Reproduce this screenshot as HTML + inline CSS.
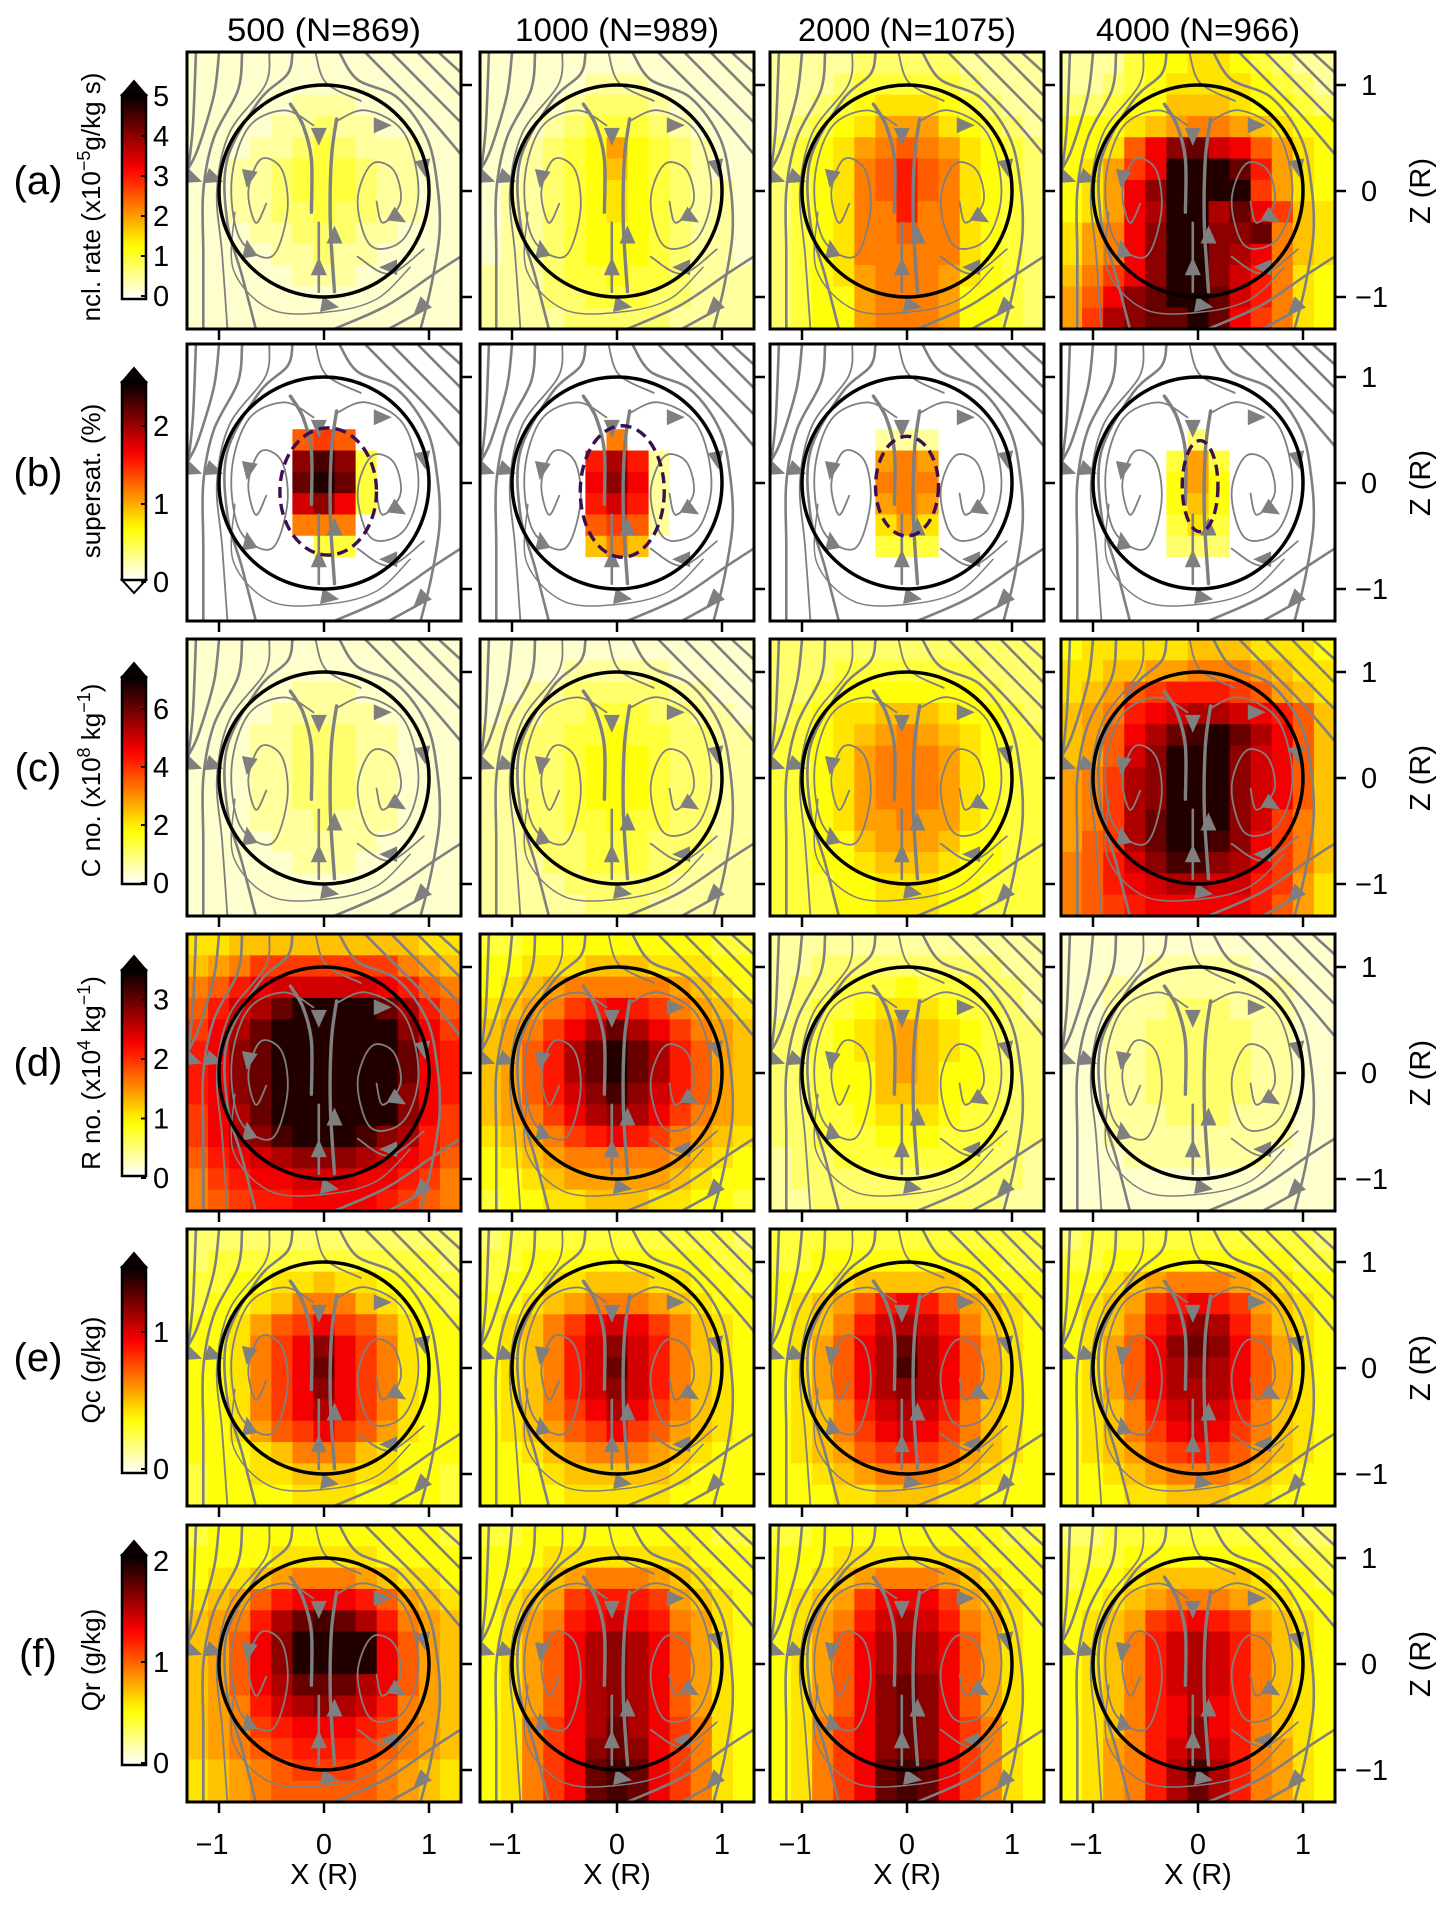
<!DOCTYPE html>
<html><head><meta charset="utf-8">
<style>
html,body{margin:0;padding:0;background:#fff;}
svg{display:block;font-family:"Liberation Sans",sans-serif;}
</style></head>
<body>
<svg id="fig" width="1441" height="1905" viewBox="0 0 1441 1905" xmlns="http://www.w3.org/2000/svg"></svg>
<script>
// ---- data: 13x13 level grids (chars 0-9a-j => level/20 of colour range), rows top->bottom ----
const columnTitles = ["500 (N=869)","1000 (N=989)","2000 (N=1075)","4000 (N=966)"];
const rowLetters = ["(a)","(b)","(c)","(d)","(e)","(f)"];
const a500 = ["1111111111111","1111111111111","1111122211111","1111223221111","1112234322211","1122344432211","1122344432211","1122334332211","1112233322111","1111223221111","1111122211111","1111111111111","1111111111111"];
const a1000 = ["1111111111111","1111122211111","1111233321111","1112344432111","1123458543211","1123457543211","1223456543221","1223456543221","1223455543221","1223455543221","2223445443222","2223344433222","2222333332222"];
const a2000 = ["2222333332222","2223444443222","2234566654322","2345688865432","345689a986543","34569aca96543","34569aca96543","345699c996543","345699a996543","3456999996543","3456899986543","3455899985543","3455899985543"];
const a4000 = ["2224556654322","2234566665432","3345577765543","5556789987655","556adgheda865","568bdjjjhc865","568dgjjjjb865","568dfjjfhdb76","689dgjjggh976","689dgjjgfd976","79bdgjjgec965","8adghjjhec965","8bfghhjhdb965"];
const b500 = ["0000000000000","0000000000000","0000000000000","0000000000000","00000aba00000","00000gig40000","00000hjh40000","00000egd40000","0000099900000","0000004400000","0000000000000","0000000000000","0000000000000"];
const b1000 = ["0000000000000","0000000000000","0000000000000","0000000000000","0000009000000","00000cfc20000","00000dgd20000","00000cec20000","00000aba20000","0000079700000","0000000000000","0000000000000","0000000000000"];
const b2000 = ["0000000000000","0000000000000","0000000000000","0000000000000","0000022200000","0000089800000","0000099900000","0000089800000","0000068600000","0000044400000","0000000000000","0000000000000","0000000000000"];
const b4000 = ["0000000000000","0000000000000","0000000000000","0000000000000","0000003000000","0000048400000","0000058500000","0000057500000","0000046400000","0000033300000","0000000000000","0000000000000","0000000000000"];
const c500 = ["1111111111111","1111111111111","1111122211111","1111222221111","1112233322111","1112233322111","1112233322111","1112233322111","1112223222111","1111222221111","1111122211111","1111111111111","1111111111111"];
const c1000 = ["1111111111111","1111222221111","1122333332211","1223344433221","2233445443322","2233455543322","2233455543322","2233455543322","2233445443322","2233344433322","2223344433222","2222333332222","2222233322222"];
const c2000 = ["3333333333333","3334444444333","3345555555433","3456677765543","4456789876544","4456899986544","4456899986544","4456899986544","4456889886544","4455788875544","4455677765544","4445566655444","4445566655444"];
const c4000 = ["5666667776665","6677889998766","678abcccba876","789cdeffedca7","78adfhijhfda7","78aegjjjgeda7","89bfgjjjgeda7","89bfgjjjgeda7","89bfhjjjgeb97","8abfhjjigdb97","9acegiigfdb97","9acdeffeecb86","9abcdddddca86"];
const d500 = ["6677777777766","789bbbbbbb987","9acdeeeeedca9","acefhjjjjhfca","bdfhjjjjjjgdb","cdghjjjjjjhdc","cdghjjjjjjhdc","cdghjjjjjjgdc","bdfhjjjjjjgdb","bdfgijjjigfcb","acdefgggfedca","9bcddeeeddcb9","9abccddddcba9"];
const d1000 = ["4455555555544","5566677766655","5678999998765","6789bcdcb9876","789bdfhfdb987","78acfhjhfca87","78acfhjhfca87","78acegigeca87","789bdfgfdb987","6789bcdcb9876","5678999998765","5567888887655","4556677766554"];
const d2000 = ["2222222222222","2233333333322","2334445444332","2344566654432","3345678765433","3345678765433","3345578755433","3345577755433","3344566654433","3344455544433","2334444444332","2333333333332","2233333333322"];
const d4000 = ["1111111111111","1111222221111","1122222222211","1122233322211","1122333332211","1122333332211","1122333332211","1122333332211","1122233322211","1122222222211","1112222222111","1111111111111","1111111111111"];
const e500 = ["3333333333333","3444444444443","4455667665544","4556799976554","5568abdba8655","5569bdgdb9655","5569bdhdb9655","5569bdgdb9655","5569bdfdb9655","5568abdba8655","5556799976555","4556677766554","4555566655554"];
const e1000 = ["3444444444443","4455555555544","4556677766554","5567899987655","5679bdedb9765","5679cegec9765","5679cehec9765","5679cegec9765","5679bdfdb9765","5678abdba8765","5567899987655","5556777776555","5555666665555"];
const e2000 = ["4444444444444","4455555555544","5556777776555","5678acdca8765","5679cefec9765","568adfhfda865","568adfifda865","568adfgfda865","5679cefec9765","5679bdedb9765","5678abcba8765","5567899987655","5556677766555"];
const e4000 = ["3444444444443","4455555555544","5567899987655","5678bcdcb8765","5679cegfc9765","568adghgda865","568adfgfda865","568adfffda865","5679cefec9765","5679bdedb9765","5678abcba8765","5567899987655","5556677766555"];
const f500 = ["4555555555554","5555666665555","5667899987665","678acdddca876","789cfhihfc987","78adgjjjjda87","78adgjjjjda87","78adfhhhfda87","789cefgfec987","789bcdddcb987","789abcccba987","6789abbba9876","6789aaaaa9876"];
const f1000 = ["4455555555544","5556666666555","5567899987655","5678bcccb8765","5689cdedc9865","568adfgfda865","568adfgfda865","568adfgfda865","568adfgfda865","569bdfhfdb965","569bdghgdb965","569bdhihdb965","569bdhihdb965"];
const f2000 = ["4455555555544","5556666666555","5567899987655","5678bdddb8765","5689cefec9865","568adfgfda865","568adfgfda865","568adghgda865","568adghgda865","569bdghgdb965","569bdghgdb965","569bdhihdb965","569bdhihdb965"];
const f4000 = ["3344444444433","4445555555444","4556777776554","5567899987655","5678bcdcb8765","5679cefec9765","5679cefec9765","5679cefec9765","5679cdfdc9765","5679cdgdc9765","5689cegec9865","5689cfifc9865","5689cfhfc9865"];
const gridRows = [[a500,a1000,a2000,a4000],[b500,b1000,b2000,b4000],[c500,c1000,c2000,c4000],[d500,d1000,d2000,d4000],[e500,e1000,e2000,e4000],[f500,f1000,f2000,f4000]];
// supersaturation dashed contour: [centerX, centerZ, radiusX, radiusZ] in R units
const ssContourCx = [0.04, 0.05, 0.0, 0.02];
const ssContourCz = [-0.08, -0.08, -0.03, -0.03];
const ssContourRx = [0.46, 0.4, 0.3, 0.17];
const ssContourRz = [0.6, 0.62, 0.47, 0.43];
// colorbar ticks per row
const cbTickValues = [[0,1,2,3,4,5],[0,1,2],[0,2,4,6],[0,1,2,3],[0,1],[0,1,2]];
const cbLabels = ["ncl. rate (x10|−5|g/kg s)","supersat. (%)","C no. (x10|8| kg|−1|)","R no. (x10|4| kg|−1|)","Qc (g/kg)","Qr (g/kg)"];
const axisTicks = [-1,0,1];

// ---- layout ----
const NS="http://www.w3.org/2000/svg";
const svg=document.getElementById('fig');
const colLeft=[187,480,770,1061], PW=274;
const rowTop=[52,344,639,934,1229,1525], PH=277;
const UX=105, UZ=106;
const cbTop=[43,38,38,36,38,30], cbBot=[247,236,245,242,244,240];
const cbZero=[244,238,244,244,240,238], cbUnit=[40,78,29,59.5,137,101];

function el(tag,attrs,parent){const e=document.createElementNS(NS,tag);for(const k in attrs)e.setAttribute(k,attrs[k]);(parent||svg).appendChild(e);return e;}
function hotR(v){v=Math.max(0,Math.min(1,v));const t=1-v;
 const r=Math.min(1,t/0.365),g=Math.max(0,Math.min(1,(t-0.365)/0.375)),b=Math.max(0,Math.min(1,(t-0.74)/0.26));
 return `rgb(${Math.round(r*255)},${Math.round(g*255)},${Math.round(b*255)})`;}
const LV="0123456789abcdefghij";

const streams=[
 [[-1.22,1.3],[-1.25,0.6],[-1.3,0.15]],
 [[-1.0,1.3],[-1.05,0.9],[-1.2,0.4],[-1.3,0.2]],
 [[-0.78,1.3],[-0.82,0.95],[-1.05,0.5],[-1.15,0],[-1.15,-0.6],[-1.15,-1.3]],
 [[-0.52,1.3],[-0.56,1.0],[-0.9,0.55],[-1.02,0],[-0.97,-0.6],[-0.92,-1.3]],
 [[-0.3,1.3],[-0.35,1.1],[-0.62,0.85],[-0.92,0.3],[-0.92,-0.3],[-0.78,-0.8],[-0.65,-1.3]],
 [[-0.08,1.3],[0.02,1.02],[0.35,0.85]],
 [[0.15,1.3],[0.32,1.05],[0.7,0.88],[0.98,0.5],[1.08,0.05],[1.1,-0.4],[1.02,-0.9],[0.92,-1.3]],
 [[0.4,1.3],[0.65,1.05],[0.98,0.72],[1.3,0.35]],
 [[0.65,1.3],[0.9,1.05],[1.3,0.65]],
 [[0.9,1.3],[1.3,0.9]],
 [[1.1,1.3],[1.3,1.12]],
 [[-0.1,0.62],[-0.38,0.76],[-0.72,0.6],[-0.88,0.1],[-0.8,-0.45],[-0.5,-0.62],[-0.35,-0.2],[-0.4,0.2],[-0.6,0.3],[-0.72,0],[-0.65,-0.3],[-0.55,-0.12]],
 [[0.12,0.66],[0.4,0.76],[0.76,0.55],[0.9,0.0],[0.76,-0.45],[0.45,-0.52],[0.32,-0.1],[0.45,0.25],[0.66,0.2],[0.73,-0.1],[0.56,-0.3],[0.5,-0.1]],
 [[0.1,-0.95],[0.06,-0.3],[0.07,0.3],[0.12,0.68]],
 [[-0.12,-0.2],[-0.12,0.3],[-0.2,0.62],[-0.32,0.82]],
 [[-0.05,-0.95],[-0.05,-0.3]],
 [[-0.85,-0.2],[-0.86,-0.75],[-0.5,-1.12],[0.05,-1.14],[0.5,-1.02],[0.82,-0.72]],
 [[0.1,-1.3],[0.6,-1.08],[1.05,-0.78],[1.3,-0.62]],
 [[0.62,-1.3],[0.95,-1.12]],
 [[0.32,-0.62],[0.62,-0.78],[0.95,-0.55]]
];
const streamWidth=[2.6,2.6,2.6,1.8,2.6,1.8,2.6,2.6,2.6,2.6,2.6,1.8,1.8,3.4,3.4,2.6,1.5,2.6,2.6,1.8];
const arrows=[[-1.25,0.12,20],[-1.05,0.12,20],[-0.72,0.12,100],[-0.72,-0.55,-100],[-0.05,0.52,90],[0.1,-0.42,-90],[-0.05,-0.72,-90],[0.55,0.62,0],[0.95,0.22,80],[0.7,-0.25,30],[0.62,-0.72,180],[0.05,-1.08,10],[0.92,-1.1,135]];

function P(c,x,z,r){return [colLeft[c]+PW/2+x*UX, rowTop[r]+139-z*UZ];}
function crPath(pts){let d=`M${pts[0][0].toFixed(1)},${pts[0][1].toFixed(1)}`;
 for(let i=0;i<pts.length-1;i++){const p0=pts[Math.max(0,i-1)],p1=pts[i],p2=pts[i+1],p3=pts[Math.min(pts.length-1,i+2)];
  const c1=[p1[0]+(p2[0]-p0[0])/6,p1[1]+(p2[1]-p0[1])/6],c2=[p2[0]-(p3[0]-p1[0])/6,p2[1]-(p3[1]-p1[1])/6];
  d+=` C${c1[0].toFixed(1)},${c1[1].toFixed(1)} ${c2[0].toFixed(1)},${c2[1].toFixed(1)} ${p2[0].toFixed(1)},${p2[1].toFixed(1)}`;}
 return d;}

const defs=el('defs',{});
const grad=el('linearGradient',{id:'hotgrad',x1:'0',y1:'1',x2:'0',y2:'0'},defs);
for(let i=0;i<=20;i++){el('stop',{offset:(i/20),'stop-color':hotR(i/20)},grad);}

const titleLen=[166,176,190,176];
columnTitles.forEach((t,c)=>{
 const tx=el('text',{x:colLeft[c]+PW/2,y:41,'font-size':32,'text-anchor':'middle',fill:'#000',textLength:titleLen[c]+28,lengthAdjust:'spacingAndGlyphs'});
 tx.textContent=t;
 
 
});

for(let r=0;r<6;r++){
 const T=rowTop[r];
 const rl=el('text',{x:38,y:T+142,'font-size':40,'text-anchor':'middle'});
 rl.textContent=rowLetters[r];
 
 
 const cg=el('g',{});
 
 
 const bt=T+cbTop[r], bb=T+cbBot[r];
 el('rect',{x:122,y:bt,width:24,height:bb-bt,fill:'url(#hotgrad)'},cg);
 el('polygon',{points:`122,${bt} 146,${bt} 134,${bt-14}`,fill:'#0a0000',stroke:'#000','stroke-width':2},cg);
 if(r===1) el('polygon',{points:`122,${bb} 146,${bb} 134,${bb+13}`,fill:'#fff',stroke:'#000','stroke-width':2},cg);
 el('rect',{x:122,y:bt,width:24,height:bb-bt,fill:'none',stroke:'#000','stroke-width':2.5},cg);
 cbTickValues[r].forEach(v=>{
  const y=T+cbZero[r]-v*cbUnit[r];
  el('line',{x1:141,x2:146,y1:y,y2:y,stroke:'#000','stroke-width':2},cg);
  const tt=el('text',{x:153,y:y+10,'font-size':29},cg); tt.textContent=v;
 });
 const lab=el('text',{x:0,y:0,'font-size':26,'text-anchor':'middle',transform:`translate(100,${(bt+bb)/2}) rotate(-90)`},cg);
 const parts=cbLabels[r].split('|');
 parts.forEach((p,i)=>{const ts=el('tspan',{},lab);ts.textContent=p;
  if(i%2===1){ts.setAttribute('font-size','18');ts.setAttribute('dy','-10');}
  else if(i>0){ts.setAttribute('dy','10');}});

 for(let c=0;c<4;c++){
  const L=colLeft[c];
  const g=el('g',{});
  
  
  const cid='clip'+r+'_'+c;
  const cp=el('clipPath',{id:cid},defs); el('rect',{x:L,y:T,width:PW,height:PH},cp);
  const inner=el('g',{'clip-path':`url(#${cid})`},g);
  const grid=gridRows[r][c];
  const cw=PW/13, ch=PH/13;
  for(let i=0;i<13;i++){const row=grid[i];for(let j=0;j<13;j++){
   const lv=LV.indexOf(row[Math.min(j,row.length-1)]);
   const cell=el('rect',{x:(L+j*cw).toFixed(2),y:(T+i*ch).toFixed(2),width:(cw+0.6).toFixed(2),height:(ch+0.6).toFixed(2),fill:hotR(lv/20)},inner);
   
   
  }}
  streams.forEach((s,k)=>{
   const pts=s.map(p=>P(c,p[0],p[1],r));
   const sl=el('path',{d:crPath(pts),fill:'none',stroke:'#7f7f7f','stroke-width':streamWidth[k],'stroke-linecap':'round'},inner);
   
   
  });
  arrows.forEach(a=>{
   const [px,py]=P(c,a[0],a[1],r);
   const ar=el('polygon',{points:'10,0 -8,-8 -8,8',fill:'#7f7f7f',transform:`translate(${px.toFixed(1)},${py.toFixed(1)}) rotate(${a[2]})`},inner);
   
   
  });
  const [cx,cy]=P(c,0,0,r);
  const circ=el('ellipse',{cx:cx,cy:cy,rx:UX,ry:UZ,fill:'none',stroke:'#000','stroke-width':3.5},inner);
  
  
  if(r===1){
   const [ex,ey]=P(c,ssContourCx[c],ssContourCz[c],r);
   const ss=el('ellipse',{cx:ex,cy:ey,rx:ssContourRx[c]*UX,ry:ssContourRz[c]*UZ,fill:'none',stroke:'#3b0f52','stroke-width':3.4,'stroke-dasharray':'11,6'},inner);
   
   
  }
  el('rect',{x:L,y:T,width:PW,height:PH,fill:'none',stroke:'#000','stroke-width':3},g);
  axisTicks.forEach(v=>{const x=L+PW/2+v*UX;
   el('line',{x1:x,x2:x,y1:T+PH,y2:T+PH+11,stroke:'#000','stroke-width':2.5},g);
   if(r===5){const tl=el('text',{x:x-(v<0?7:0),y:T+PH+52,'font-size':29,'text-anchor':'middle'},g);tl.textContent=(v<0?'−':'')+Math.abs(v);}
  });
  axisTicks.forEach(v=>{const y=T+139-v*UZ;
   el('line',{x1:L+PW,x2:L+PW+11,y1:y,y2:y,stroke:'#000','stroke-width':2.5},g);
   if(c===3){const tl=el('text',{x:L+PW+(v<0?20:26),y:y+10,'font-size':29},g);tl.textContent=(v<0?'−':'')+Math.abs(v);}
  });
  if(r===5){const xl=el('text',{x:L+PW/2,y:1884,'font-size':29,'text-anchor':'middle'},g);xl.textContent='X (R)';
   }
  if(c===3){const zl=el('text',{x:0,y:0,'font-size':29,'text-anchor':'middle',transform:`translate(1430,${T+139}) rotate(-90)`},g);zl.textContent='Z (R)';
   }
 }
}
</script>
</body></html>
